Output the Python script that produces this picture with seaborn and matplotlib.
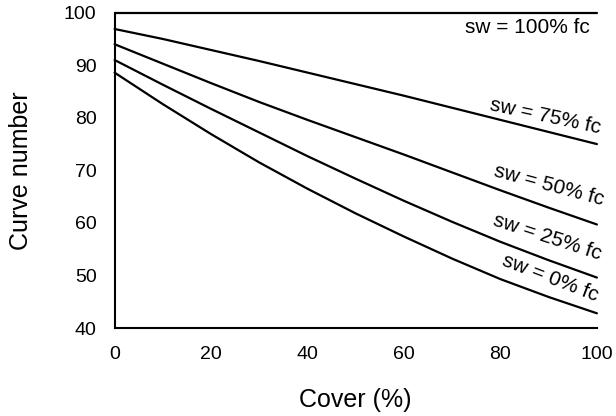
import matplotlib
matplotlib.use("Agg")
import matplotlib.pyplot as plt
import seaborn as sns
import pandas as pd

cover = [0, 10, 20, 30, 40, 50, 60, 70, 80, 90, 100]
sw_100 = [100, 100, 100, 100, 100, 100, 100, 100, 100, 100, 100]
sw_75 = [96.9, 95.0, 92.9, 90.8, 88.6, 86.4, 84.2, 81.9, 79.6, 77.3, 75.0]
sw_50 = [94.0, 90.3, 86.6, 83.0, 79.6, 76.3, 73.0, 69.6, 66.2, 62.9, 59.7]
sw_25 = [91.0, 86.3, 81.7, 77.2, 72.7, 68.4, 64.2, 60.2, 56.4, 52.9, 49.6]
sw_0 = [88.6, 82.6, 76.9, 71.5, 66.5, 61.8, 57.4, 53.2, 49.3, 45.9, 42.8]
series_names = ["sw = 100% fc", "sw = 75% fc", "sw = 50% fc", "sw = 25% fc", "sw = 0% fc"]
series_values = [sw_100, sw_75, sw_50, sw_25, sw_0]
xticks = [0, 20, 40, 60, 80, 100]
yticks = [40, 50, 60, 70, 80, 90, 100]

rows = []
for name, vals in zip(series_names, series_values):
    for c, v in zip(cover, vals):
        rows.append({"cover": c, "cn": v, "sw": name})
df = pd.DataFrame(rows)

sns.set_style("white")
plt.rcParams["font.family"] = ["Liberation Sans", "DejaVu Sans"]
plt.rcParams["text.color"] = "black"
plt.rcParams["axes.labelcolor"] = "black"

fig = plt.figure(figsize=(6.16, 4.16), dpi=100)
ax = fig.add_axes([0.186, 0.2115, 0.783, 0.758])
sns.lineplot(data=df, x="cover", y="cn", hue="sw", palette=["black"] * 5,
             linewidth=1.6, legend=False, ax=ax, clip_on=False)

ax.set_xlim(0, 100)
ax.set_ylim(40, 100)
ax.set_xticks(xticks)
ax.set_yticks(yticks)
for s in ["top", "right"]:
    ax.spines[s].set_visible(False)
for s in ["left", "bottom"]:
    ax.spines[s].set_color("black")
    ax.spines[s].set_linewidth(1.5)
ax.tick_params(axis="y", direction="in", length=6, width=1.5, labelsize=14, pad=13, colors="black")
ax.tick_params(axis="x", direction="in", length=3, width=1, labelsize=14, pad=13, colors="black")
ax.set_xlabel("Cover (%)", fontsize=18, labelpad=18, color="black")
ax.set_ylabel("Curve number", fontsize=18, labelpad=22, color="black")

label_pos = [(85.5, 97.1, 0), (89.4, 80.2, -12), (90.0, 67.2, -15), (89.8, 57.3, -18), (90.4, 49.5, -21)]
for name, (lx, ly, rot) in zip(series_names, label_pos):
    ax.text(lx, ly, name, ha="center", va="center", rotation=rot, fontsize=15,
            rotation_mode="anchor", color="black")

fig.savefig("out.png", dpi=100)
